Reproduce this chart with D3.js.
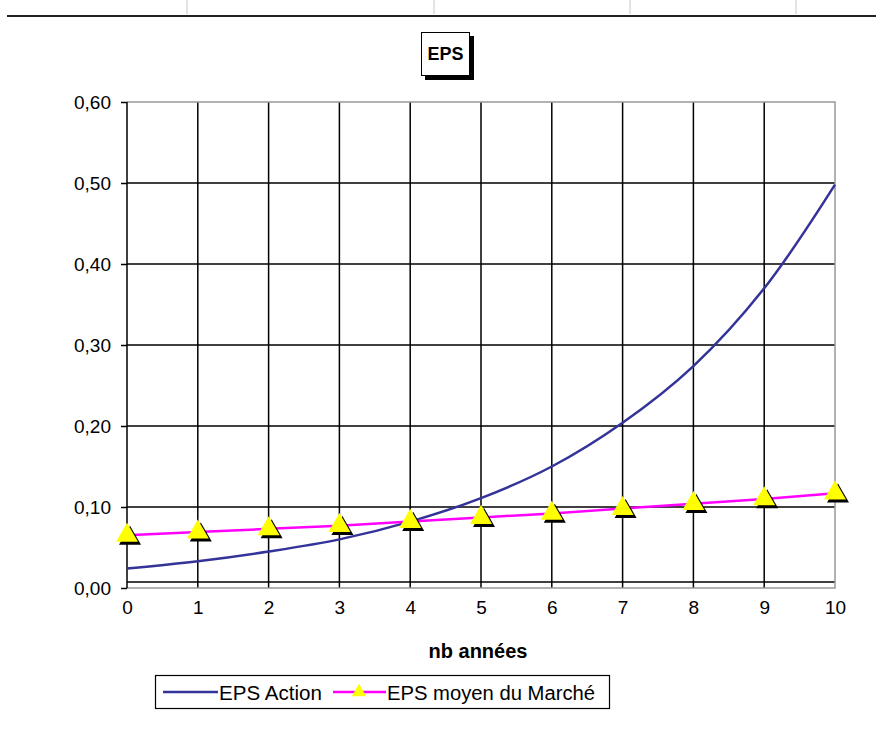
<!DOCTYPE html>
<html>
<head>
<meta charset="utf-8">
<script src="https://cdn.jsdelivr.net/npm/d3@7/dist/d3.min.js"></script>
<style>
  body { margin: 0; background: #fff; }
  text { font-family: "Liberation Sans", Arial, sans-serif; }
</style>
</head>
<body>
<svg id="chart" width="876" height="729"></svg>
<script>
// values
var years = [0, 1, 2, 3, 4, 5, 6, 7, 8, 9, 10];
var eps_action = [0.024, 0.033, 0.045, 0.060, 0.082, 0.111, 0.150, 0.204, 0.274, 0.370, 0.498];
var eps_marche = [0.065, 0.069, 0.073, 0.077, 0.082, 0.087, 0.092, 0.098, 0.104, 0.110, 0.117];
var y_ticks = [0, 0.1, 0.2, 0.3, 0.4, 0.5, 0.6];
var sheet_marks = [187, 434, 630, 796];

var svg = d3.select("#chart");
var plot_left = 127, plot_right = 835, plot_top = 102, plot_bottom = 588;

var x = d3.scaleLinear().domain([0, 10]).range([plot_left, plot_right]);
var y = d3.scaleLinear().domain([0, 0.6]).range([plot_bottom, plot_top]);
var fmt = function(v) { return d3.format(".2f")(v).replace(".", ","); };

// spreadsheet edge at the top
svg.selectAll(".mark").data(sheet_marks).enter().append("line")
    .attr("x1", d => d).attr("x2", d => d)
    .attr("y1", 0).attr("y2", 14)
    .attr("stroke", "#c8c8c8").attr("stroke-width", 1);
svg.append("line").attr("x1", 7).attr("x2", 876).attr("y1", 16).attr("y2", 16)
    .attr("stroke", "#222").attr("stroke-width", 2);

// title box with shadow
svg.append("rect").attr("x", 425).attr("y", 36).attr("width", 49).attr("height", 44).attr("fill", "#000");
svg.append("rect").attr("x", 421.5).attr("y", 32.5).attr("width", 48).attr("height", 43)
    .attr("fill", "#fff").attr("stroke", "#000").attr("stroke-width", 1);
svg.append("text").attr("x", 445.5).attr("y", 60).attr("text-anchor", "middle")
    .attr("font-size", 18).attr("font-weight", "bold")
    .attr("textLength", 36).attr("lengthAdjust", "spacingAndGlyphs").text("EPS");

// gridlines
svg.selectAll(".hgrid").data(y_ticks.slice(1, 6)).enter().append("line")
    .attr("x1", plot_left).attr("x2", plot_right)
    .attr("y1", d => y(d)).attr("y2", d => y(d))
    .attr("stroke", "#000").attr("stroke-width", 1.5);
svg.append("line").attr("x1", plot_left).attr("x2", plot_right)
    .attr("y1", plot_bottom - 6).attr("y2", plot_bottom - 6)
    .attr("stroke", "#000").attr("stroke-width", 1.5);
svg.selectAll(".vgrid").data(years.slice(1, 10)).enter().append("line")
    .attr("x1", d => x(d)).attr("x2", d => x(d))
    .attr("y1", plot_top).attr("y2", plot_bottom)
    .attr("stroke", "#000").attr("stroke-width", 1.5);

// plot frame (grey) and left axis (black)
svg.append("path")
    .attr("d", `M${plot_left},${plot_top}H${plot_right}V${plot_bottom}H${plot_left}`)
    .attr("fill", "none").attr("stroke", "#999").attr("stroke-width", 1.5);
svg.append("line").attr("x1", plot_left).attr("x2", plot_left)
    .attr("y1", plot_top).attr("y2", plot_bottom)
    .attr("stroke", "#000").attr("stroke-width", 1.5);

// axes
var yAxis = svg.append("g").attr("transform", `translate(${plot_left},0)`)
    .call(d3.axisLeft(y).tickValues(y_ticks).tickFormat(fmt).tickSize(6).tickPadding(10));
yAxis.select(".domain").remove();
yAxis.selectAll("line").attr("stroke", "#000").attr("stroke-width", 1.5);
yAxis.selectAll("text").attr("font-size", 19).attr("fill", "#000")
    .attr("font-family", "Liberation Sans, Arial, sans-serif");

var xAxis = svg.append("g").attr("transform", `translate(0,${plot_bottom})`)
    .call(d3.axisBottom(x).tickValues(years).tickFormat(d3.format("d")).tickSize(0).tickPadding(13));
xAxis.select(".domain").remove();
xAxis.selectAll("text").attr("font-size", 19).attr("fill", "#000")
    .attr("font-family", "Liberation Sans, Arial, sans-serif");

svg.append("text").attr("x", 478).attr("y", 658).attr("text-anchor", "middle")
    .attr("font-size", 20).attr("font-weight", "bold").text("nb années");

// series
var action_line = d3.line().x((d, i) => x(years[i])).y(d => y(d)).curve(d3.curveCatmullRom);
var marche_line = d3.line().x((d, i) => x(years[i])).y(d => y(d));

svg.append("path").datum(eps_action).attr("d", action_line)
    .attr("fill", "none").attr("stroke", "#333399").attr("stroke-width", 2.5);
svg.append("path").datum(eps_marche).attr("d", marche_line)
    .attr("fill", "none").attr("stroke", "#ff00ff").attr("stroke-width", 2.5);

var tri = d3.symbol().type(d3.symbolTriangle).size(210);
var markers = svg.selectAll(".marker").data(eps_marche).enter().append("g")
    .attr("transform", (d, i) => `translate(${x(years[i])},${y(d)})`);
markers.append("path").attr("d", tri).attr("transform", "translate(3,3)").attr("fill", "#000");
markers.append("path").attr("d", tri).attr("fill", "#ffff00");

// legend
var lg = svg.append("g");
lg.append("rect").attr("x", 155.5).attr("y", 675.5).attr("width", 454).attr("height", 33)
    .attr("fill", "#fff").attr("stroke", "#000").attr("stroke-width", 1.2);
lg.append("line").attr("x1", 163).attr("x2", 218).attr("y1", 692).attr("y2", 692)
    .attr("stroke", "#333399").attr("stroke-width", 2.5);
lg.append("text").attr("x", 219).attr("y", 700).attr("font-size", 20)
    .attr("textLength", 103).attr("lengthAdjust", "spacingAndGlyphs").text("EPS Action");
lg.append("line").attr("x1", 333).attr("x2", 386).attr("y1", 692).attr("y2", 692)
    .attr("stroke", "#ff00ff").attr("stroke-width", 2.5);
lg.append("path").attr("d", d3.symbol().type(d3.symbolTriangle).size(90))
    .attr("transform", "translate(359,692)").attr("fill", "#ffff00");
lg.append("text").attr("x", 387).attr("y", 700).attr("font-size", 20)
    .attr("textLength", 208).attr("lengthAdjust", "spacingAndGlyphs").text("EPS moyen du Marché");
</script>
</body>
</html>
